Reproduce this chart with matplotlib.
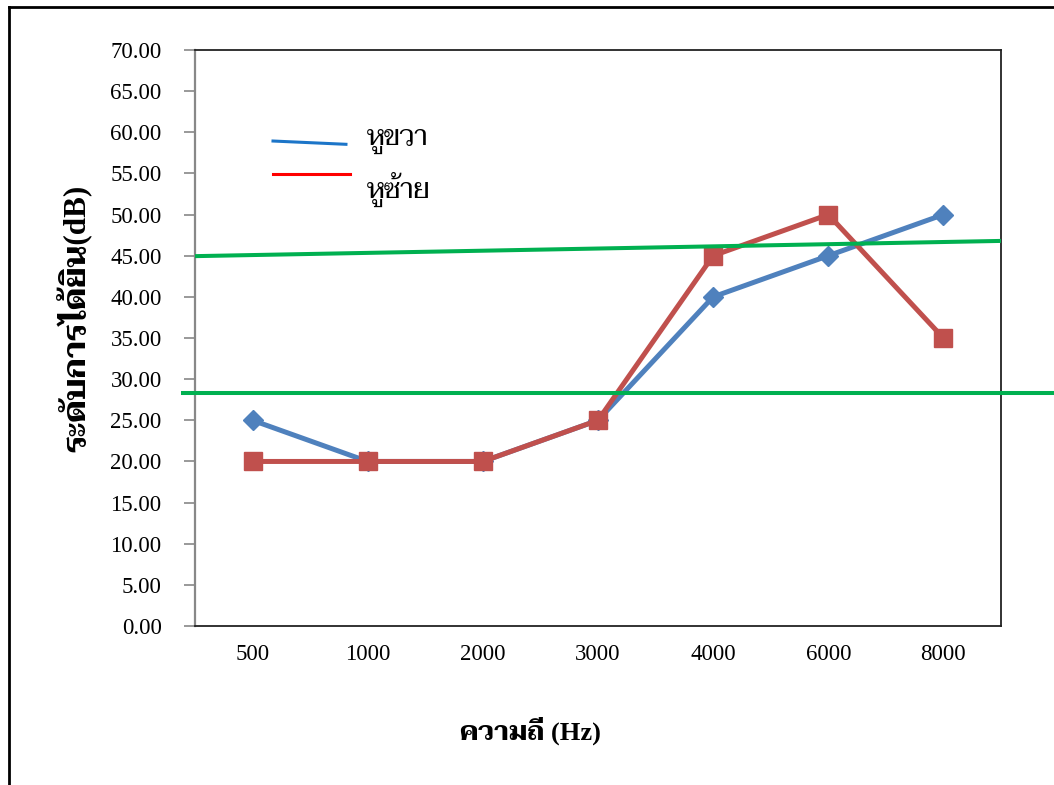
import matplotlib
matplotlib.use("Agg")
import matplotlib.pyplot as plt
from matplotlib.lines import Line2D

# ความถี่ที่ตรวจ และระดับการได้ยินของหูแต่ละข้าง (dB)
freqs = ["500", "1000", "2000", "3000", "4000", "6000", "8000"]
right_ear = [25, 20, 20, 25, 40, 45, 50]
left_ear = [20, 20, 20, 25, 45, 50, 35]

# เส้นอ้างอิงสีเขียว
ref_flat = 28.35
ref_slope = [44.95, 46.8]

thai = ["Liberation Serif", "Taviraj", "Trirong", "Noto Serif Thai", "Sarabun", "DejaVu Sans"]
plt.rcParams["font.family"] = thai

fig = plt.figure(figsize=(10.54, 7.85), dpi=100)
ax = fig.add_axes([0.185, 0.2025, 0.7647, 0.7338])

x = list(range(len(freqs)))
ax.plot(x, right_ear, color="#4F81BD", lw=3.6, marker="D", ms=10.5,
        solid_joinstyle="round", zorder=3)
ax.plot(x, left_ear, color="#C0504D", lw=3.6, marker="s", ms=13.5,
        solid_joinstyle="round", zorder=4)

# เส้นสีเขียว
ax.plot([-0.5, 6.5], ref_slope, color="#00B050", lw=2.9, zorder=5)
ax.plot([-0.6, 7.2], [ref_flat, ref_flat], color="#00B050", lw=2.9,
        clip_on=False, zorder=5)

ax.set_xlim(-0.5, 6.5)
ax.set_ylim(0, 70)
ax.set_yticks(range(0, 71, 5))
ax.set_yticklabels(["%.2f" % v for v in range(0, 71, 5)])
ax.set_xticks(x)
ax.set_xticklabels(freqs)
ax.tick_params(axis="y", length=8, width=1.2, color="#888888", pad=16,
               labelsize=16.5)
ax.tick_params(axis="x", length=0, pad=13, labelsize=16.5)

ax.spines["left"].set_color("#888888")
ax.spines["left"].set_linewidth(1.6)
for s in ["top", "right", "bottom"]:
    ax.spines[s].set_color("#222222")
    ax.spines[s].set_linewidth(1.3)

# คำอธิบายเส้น
ax.add_line(Line2D([0.0968, 0.1873], [0.842, 0.8363], transform=ax.transAxes,
                   color="#1C75C8", lw=2.2))
ax.add_line(Line2D([0.0968, 0.1923], [0.7842, 0.7842], transform=ax.transAxes,
                   color="#FF0000", lw=2.2))
ax.text(0.2134, 0.835, "หูขวา", transform=ax.transAxes, fontsize=20,
        va="baseline", ha="left")
ax.text(0.2134, 0.743, "หูซ้าย", transform=ax.transAxes, fontsize=20,
        va="baseline", ha="left")

fig.text(0.503, 0.069, "ความถี่ (Hz)", fontsize=19, fontweight="bold",
         ha="center", va="center")
fig.text(0.071, 0.595, "ระดับการได้ยิน(dB)", fontsize=22.5, fontweight="bold",
         rotation=90, ha="center", va="center")

# กรอบด้านซ้ายและด้านบน
fig.add_artist(Line2D([0.0085, 0.0085], [0.0, 0.991], color="black", lw=2))
fig.add_artist(Line2D([0.0085, 1.0], [0.991, 0.991], color="black", lw=2))

fig.savefig("out.png", dpi=100)
